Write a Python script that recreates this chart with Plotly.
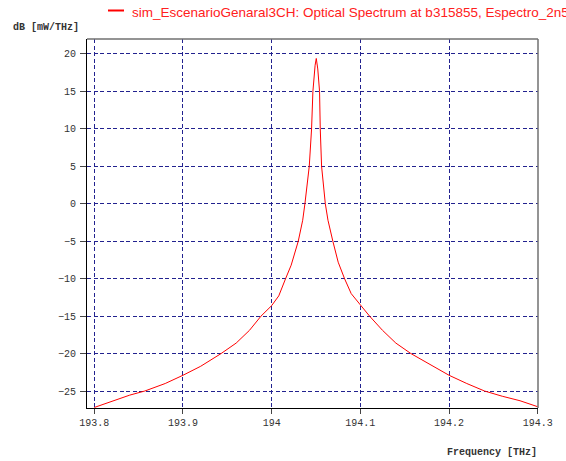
import plotly.graph_objects as go

# Optical spectrum around the 194.05 THz carrier (frequency in THz, power in dB[mW/THz])
freq_thz = [
    193.800, 193.820, 193.840, 193.857, 193.880, 193.900, 193.920, 193.943,
    193.960, 193.975, 193.988, 194.000, 194.008, 194.0157, 194.022, 194.030,
    194.035, 194.0375, 194.0424, 194.045, 194.0465, 194.049, 194.0503,
    194.052, 194.054, 194.0548, 194.0563, 194.0605, 194.0635, 194.069,
    194.075, 194.0822, 194.0897, 194.100, 194.1104, 194.125, 194.140,
    194.157, 194.180, 194.200, 194.220, 194.240, 194.260, 194.280, 194.300,
]
power_db = [
    -27.2, -26.4, -25.55, -25.0, -24.0, -22.9, -21.7, -20.0,
    -18.6, -16.9, -15.0, -13.6, -12.3, -10.0, -8.2, -5.0,
    -2.2, 0.0, 5.0, 10.0, 15.0, 18.5, 19.4,
    18.0, 15.0, 10.0, 5.0, 0.0, -2.2, -5.0,
    -7.8, -10.0, -12.0, -13.5, -15.0, -16.9, -18.6,
    -20.0, -21.5, -22.9, -24.0, -25.0, -25.7, -26.3, -27.1,
]

x_ticks = [193.8, 193.9, 194.0, 194.1, 194.2, 194.3]
x_tick_text = ["193.8", "193.9", "194", "194.1", "194.2", "194.3"]
y_ticks = [20, 15, 10, 5, 0, -5, -10, -15, -20, -25]

series_name = "sim_EscenarioGenaral3CH: Optical Spectrum at b315855, Espectro_2n5"
y_title = "dB [mW/THz]"
x_title = "Frequency [THz]"

mono = "Liberation Mono"
grid_col = "#22228f"

fig = go.Figure()
fig.add_trace(go.Scatter(
    x=freq_thz, y=power_db, mode="lines", name=series_name,
    line=dict(color="#ff0000", width=1), showlegend=False,
))

# plot area in pixels: l=87, r=28, t=39, b=53 -> 451 x 369
PW, PH, B, L = 451, 369, 53, 87


def px_x(x):
    return (x - L) / PW


def px_y(y):
    return (461 - B - y) / PH


fig.update_layout(
    width=566, height=461,
    margin=dict(l=L, r=28, t=39, b=B),
    paper_bgcolor="white", plot_bgcolor="white",
    font=dict(family=mono, size=10, color="#333333"),
    xaxis=dict(
        range=[193.7918, 194.3003], tickvals=x_ticks, ticktext=x_tick_text,
        showgrid=True, gridcolor=grid_col, gridwidth=1, griddash="4px,2.5px",
        zeroline=False, showline=True, linecolor="#000000", linewidth=1,
        ticks="outside", ticklen=5, tickcolor="#444444",
        tickfont=dict(family=mono, size=10, color="#333333"),
    ),
    yaxis=dict(
        range=[-27.27, 22.0], tickvals=y_ticks,
        showgrid=True, gridcolor=grid_col, gridwidth=1, griddash="4px,2.5px",
        zeroline=False, showline=True, linecolor="#000000", linewidth=1,
        ticks="outside", ticklen=6, tickcolor="#444444",
        tickfont=dict(family=mono, size=10, color="#333333"),
        ticklabelstandoff=2,
    ),
    shapes=[
        # top and right frame of the plot area
        dict(type="line", xref="paper", yref="paper", x0=0, x1=1, y0=1, y1=1,
             line=dict(color="#707070", width=1.5)),
        dict(type="line", xref="paper", yref="paper", x0=1, x1=1, y0=0, y1=1,
             line=dict(color="#707070", width=1.5)),
        # legend swatch
        dict(type="line", xref="paper", yref="paper",
             x0=px_x(108), x1=px_x(124), y0=px_y(10.5), y1=px_y(10.5),
             line=dict(color="#ff0000", width=2)),
    ],
    annotations=[
        dict(text=series_name, xref="paper", yref="paper",
             x=px_x(130), y=px_y(12.5),
             xanchor="left", yanchor="middle", showarrow=False,
             font=dict(family="Liberation Sans", size=13.5, color="#ff2020")),
        dict(text="<b>" + y_title + "</b>", xref="paper", yref="paper",
             x=px_x(11), y=px_y(28),
             xanchor="left", yanchor="middle", showarrow=False,
             font=dict(family=mono, size=10, color="#333333")),
        dict(text="<b>" + x_title + "</b>", xref="paper", yref="paper",
             x=px_x(539), y=px_y(452),
             xanchor="right", yanchor="middle", showarrow=False,
             font=dict(family=mono, size=10, color="#333333")),
    ],
)

fig.write_html("out.html")
